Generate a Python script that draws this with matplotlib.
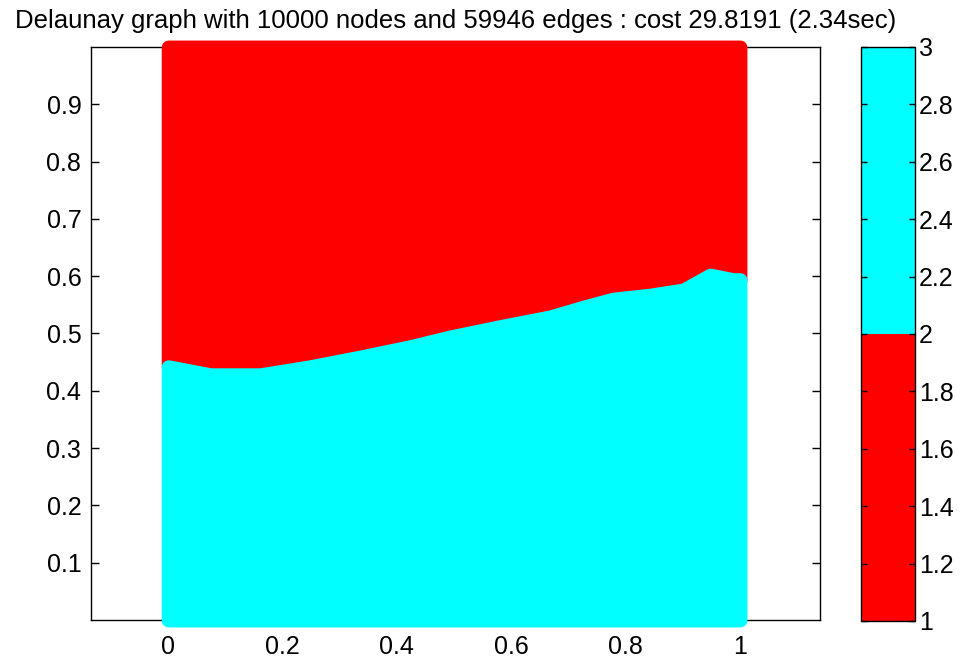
import numpy as np
import matplotlib
matplotlib.use("Agg")
import matplotlib.pyplot as plt
from matplotlib.colors import ListedColormap, Normalize
from matplotlib.cm import ScalarMappable

plt.rcParams['font.family'] = ['Liberation Sans', 'DejaVu Sans']

# ---- data ----
title = "Delaunay graph with 10000 nodes and 59946 edges : cost 29.8191 (2.34sec)"
# partition boundary between part 1 (red, top) and part 2 (cyan, bottom)
boundary_x = [0.0, 0.074, 0.161, 0.248, 0.336, 0.423, 0.493, 0.580, 0.668,
              0.726, 0.778, 0.843, 0.901, 0.948, 0.988, 1.0]
boundary_y = [0.442, 0.428, 0.428, 0.442, 0.459, 0.477, 0.494, 0.512, 0.529,
              0.546, 0.560, 0.567, 0.576, 0.602, 0.594, 0.594]
domain_x = [0.0, 1.0]
domain_y = [0.0, 1.0]
part_colors = ['#ff0000', '#00ffff']
part_values = [1, 3]
x_ticks = [0, 0.2, 0.4, 0.6, 0.8, 1]
x_ticklabels = ['0', '0.2', '0.4', '0.6', '0.8', '1']
y_ticks = [0.1, 0.2, 0.3, 0.4, 0.5, 0.6, 0.7, 0.8, 0.9]
y_ticklabels = ['0.1', '0.2', '0.3', '0.4', '0.5', '0.6', '0.7', '0.8', '0.9']
cb_ticks = [1, 1.2, 1.4, 1.6, 1.8, 2, 2.2, 2.4, 2.6, 2.8, 3]
cb_ticklabels = ['1', '1.2', '1.4', '1.6', '1.8', '2', '2.2', '2.4', '2.6', '2.8', '3']

fig = plt.figure(figsize=(9.61, 6.6), dpi=100)
ax = fig.add_axes([0.0947, 0.0606, 0.7586, 0.8682])
bx = np.array(boundary_x)
by = np.array(boundary_y)

# part 1 (red): above boundary
ax.fill_between(bx, by, domain_y[1], facecolor=part_colors[0], edgecolor=part_colors[0],
                linewidth=10, joinstyle='round', clip_on=False, zorder=2)
# part 2 (cyan): below boundary
ax.fill_between(bx, domain_y[0], by, facecolor=part_colors[1], edgecolor=part_colors[1],
                linewidth=10, joinstyle='round', clip_on=False, zorder=3)

ax.set_xlim(-0.135, 1.14)
ax.set_ylim(0, 1)
ax.set_xticks(x_ticks)
ax.set_xticklabels(x_ticklabels)
ax.set_yticks(y_ticks)
ax.set_yticklabels(y_ticklabels)
ax.tick_params(direction='in', length=6, width=1, top=True, right=True,
               labelsize=18, colors='black')
ax.tick_params(axis='x', pad=11)
ax.tick_params(axis='y', pad=7)
for s in ax.spines.values():
    s.set_linewidth(1.0)
    s.set_zorder(1)
ax.set_title(title, fontsize=18.5, pad=14)

cax = fig.add_axes([0.896, 0.0591, 0.0562, 0.8697])
sm = ScalarMappable(norm=Normalize(part_values[0], part_values[1]),
                    cmap=ListedColormap(part_colors))
cb = fig.colorbar(sm, cax=cax)
cb.set_ticks(cb_ticks)
cb.set_ticklabels(cb_ticklabels)
cax.tick_params(direction='in', length=4, width=1, left=True, right=True,
                labelsize=18, pad=3)
cb.outline.set_linewidth(1.0)

fig.savefig('out.png', dpi=100)
